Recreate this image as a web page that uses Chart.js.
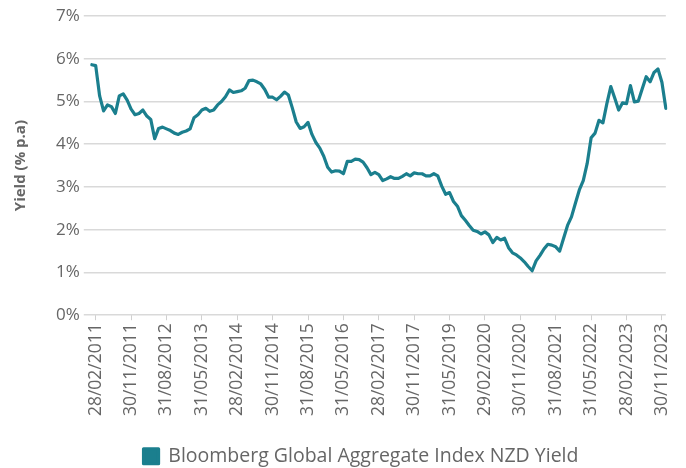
<!DOCTYPE html>
<html>
<head>
<meta charset="utf-8">
<script src="https://cdn.jsdelivr.net/npm/chart.js@4.4.1/dist/chart.umd.min.js"></script>
<style>
html,body{margin:0;padding:0;background:#fff;}
#wrap{width:686px;height:468px;}
</style>
</head>
<body>
<div id="wrap"><canvas id="c" width="686" height="468"></canvas></div>
<script>
const categories = [
"31/01/2011","28/02/2011","31/03/2011","30/04/2011","31/05/2011","30/06/2011","31/07/2011","31/08/2011","30/09/2011","31/10/2011","30/11/2011","31/12/2011",
"31/01/2012","29/02/2012","31/03/2012","30/04/2012","31/05/2012","30/06/2012","31/07/2012","31/08/2012","30/09/2012","31/10/2012","30/11/2012","31/12/2012",
"31/01/2013","28/02/2013","31/03/2013","30/04/2013","31/05/2013","30/06/2013","31/07/2013","31/08/2013","30/09/2013","31/10/2013","30/11/2013","31/12/2013",
"31/01/2014","28/02/2014","31/03/2014","30/04/2014","31/05/2014","30/06/2014","31/07/2014","31/08/2014","30/09/2014","31/10/2014","30/11/2014","31/12/2014",
"31/01/2015","28/02/2015","31/03/2015","30/04/2015","31/05/2015","30/06/2015","31/07/2015","31/08/2015","30/09/2015","31/10/2015","30/11/2015","31/12/2015",
"31/01/2016","29/02/2016","31/03/2016","30/04/2016","31/05/2016","30/06/2016","31/07/2016","31/08/2016","30/09/2016","31/10/2016","30/11/2016","31/12/2016",
"31/01/2017","28/02/2017","31/03/2017","30/04/2017","31/05/2017","30/06/2017","31/07/2017","31/08/2017","30/09/2017","31/10/2017","30/11/2017",
"31/01/2018","31/03/2018","31/05/2018","31/07/2018","30/09/2018","30/11/2018","31/01/2019","31/03/2019",
"31/05/2019","30/06/2019","31/07/2019","31/08/2019","30/09/2019","31/10/2019","30/11/2019","31/12/2019",
"31/01/2020","29/02/2020","31/03/2020","30/04/2020","31/05/2020","30/06/2020","31/07/2020","31/08/2020","30/09/2020","31/10/2020","30/11/2020","31/12/2020",
"31/01/2021","28/02/2021","31/03/2021","30/04/2021","31/05/2021","30/06/2021","31/07/2021","31/08/2021","30/09/2021","31/10/2021","30/11/2021","31/12/2021",
"31/01/2022","28/02/2022","31/03/2022","30/04/2022","31/05/2022","30/06/2022","31/07/2022","31/08/2022","30/09/2022","31/10/2022","30/11/2022","31/12/2022",
"31/01/2023","28/02/2023","31/03/2023","30/04/2023","31/05/2023","30/06/2023","31/07/2023","31/08/2023","30/09/2023","31/10/2023","30/11/2023","31/12/2023"
];

const tickLabels = ["28/02/2011","30/11/2011","31/08/2012","31/05/2013","28/02/2014","30/11/2014","31/08/2015","31/05/2016","28/02/2017","30/11/2017","31/05/2019","29/02/2020","30/11/2020","31/08/2021","31/05/2022","28/02/2023","30/11/2023"];

const nzdYield = [
5.86,5.84,5.13,4.78,4.92,4.88,4.72,5.13,5.18,5.03,4.82,4.69,
4.72,4.80,4.66,4.58,4.13,4.37,4.40,4.36,4.32,4.26,4.23,4.28,
4.31,4.36,4.62,4.69,4.80,4.84,4.77,4.80,4.92,5.00,5.11,5.27,
5.21,5.23,5.25,5.31,5.49,5.50,5.46,5.41,5.28,5.10,5.10,5.04,
5.12,5.22,5.15,4.85,4.52,4.37,4.41,4.51,4.23,4.04,3.91,3.72,
3.46,3.35,3.38,3.37,3.31,3.60,3.60,3.65,3.64,3.58,3.45,3.29,
3.34,3.29,3.15,3.19,3.24,3.20,3.20,3.25,3.31,3.26,3.33,
3.31,3.31,3.26,3.26,3.31,3.26,3.02,2.83,
2.87,2.66,2.55,2.33,2.22,2.10,1.99,1.96,
1.90,1.95,1.88,1.70,1.82,1.76,1.80,1.58,1.46,1.41,1.34,1.25,
1.14,1.04,1.27,1.40,1.55,1.66,1.64,1.60,1.50,1.80,2.10,2.30,
2.62,2.93,3.15,3.55,4.15,4.26,4.56,4.50,4.95,5.35,5.08,4.80,
4.97,4.95,5.37,4.99,5.01,5.30,5.58,5.46,5.68,5.76,5.45,4.84
];

const seriesName = "Bloomberg Global Aggregate Index NZD Yield";
const FONT = "'Open Sans'";
const GREY = "#666666";
const TEAL = "#1b7f8e";

// nudge the legend block to sit where the reference places it
const legendNudge = {
  id: 'legendNudge',
  afterLayout(chart) {
    const lg = chart.legend;
    if (!lg) return;
    lg.left += 19; lg.right += 19;
    lg.top += 8; lg.bottom += 8;
  }
};

new Chart(document.getElementById('c'), {
  type: 'line',
  data: {
    labels: categories,
    datasets: [{
      label: seriesName,
      data: nzdYield,
      borderColor: TEAL,
      backgroundColor: TEAL,
      borderWidth: 3.2,
      pointRadius: 0,
      tension: 0,
      borderJoinStyle: 'round',
      borderCapStyle: 'round'
    }]
  },
  plugins: [legendNudge],
  options: {
    responsive: false,
    animation: false,
    layout: { padding: { left: 12, right: 14, top: 16, bottom: 0 } },
    plugins: {
      legend: {
        position: 'bottom',
        title: {
          display: true,
          text: ' ',
          font: { size: 2 },
          padding: { top: 0, bottom: 13 }
        },
        labels: {
          color: GREY,
          font: { family: FONT, size: 19.5 },
          boxWidth: 15,
          boxHeight: 15,
          padding: 4
        }
      },
      tooltip: { enabled: false }
    },
    scales: {
      x: {
        offset: false,
        border: { display: false },
        grid: {
          drawOnChartArea: false,
          drawTicks: true,
          tickLength: 5,
          color: '#d0d0d0',
          lineWidth: 1
        },
        ticks: {
          autoSkip: false,
          maxRotation: 90,
          minRotation: 90,
          color: GREY,
          padding: 3,
          font: { family: FONT, size: 17.5 },
          callback: function(v, i) {
            const lab = categories[i];
            return tickLabels.includes(lab) ? lab : null;
          }
        }
      },
      y: {
        min: 0,
        max: 7,
        border: { display: false },
        grid: {
          color: '#d9d9d9',
          lineWidth: 1.5,
          tickLength: 8,
          drawTicks: true
        },
        ticks: {
          stepSize: 1,
          color: GREY,
          padding: 4,
          font: { family: FONT, size: 17 },
          callback: function(v) { return v + '%'; }
        },
        title: {
          display: true,
          text: 'Yield (% p.a)',
          color: GREY,
          font: { family: FONT, size: 15, weight: 'bold' },
          padding: { top: 0, bottom: 22 }
        }
      }
    }
  }
});
</script>
</body>
</html>
